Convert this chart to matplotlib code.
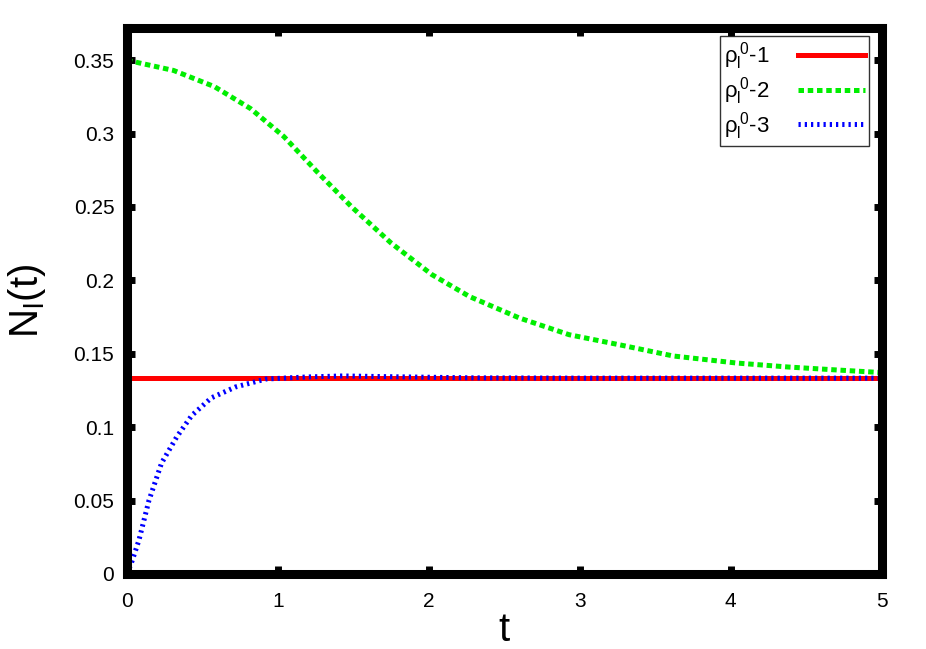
import numpy as np
import matplotlib
matplotlib.use('Agg')
import matplotlib.pyplot as plt

plt.rcParams['font.family'] = ['Liberation Sans', 'DejaVu Sans']
plt.rcParams['mathtext.fontset'] = 'custom'
plt.rcParams['mathtext.rm'] = 'Liberation Sans'
plt.rcParams['mathtext.default'] = 'regular'

# data
t_green = [0.0, 0.31, 0.58, 0.82, 1.04, 1.26, 1.49, 1.75, 2.02, 2.27, 2.60, 2.93,
           3.27, 3.62, 4.04, 4.38, 4.70, 5.0]
n_green = [0.350, 0.343, 0.332, 0.317, 0.298, 0.274, 0.250, 0.2255, 0.204, 0.189,
           0.1744, 0.163, 0.156, 0.1485, 0.1437, 0.141, 0.139, 0.1372]

t_blue = [0.0, 0.03, 0.08, 0.146, 0.23, 0.33, 0.43, 0.56, 0.72, 0.92, 1.19, 1.43,
          1.8, 2.3, 3.0, 4.0, 5.0]
n_blue = [0.0, 0.0075, 0.023, 0.050, 0.0756, 0.0933, 0.108, 0.120, 0.1274, 0.1328,
          0.1342, 0.1349, 0.1343, 0.1336, 0.1334, 0.1334, 0.1334]

t_red = [0.0, 5.0]
n_red = [0.1333, 0.1333]

labels = [r'$\rho_l^{\,0}$-1', r'$\rho_l^{\,0}$-2', r'$\rho_l^{\,0}$-3']

fig = plt.figure(figsize=(9.26, 6.49), dpi=100)
ax = fig.add_axes([0.137, 0.1156, 0.815, 0.8414])

ax.plot(t_red, n_red, color='#ff0000', lw=3.6, label=labels[0])
ax.plot(t_green, n_green, color='#00ee00', lw=3.6, linestyle=(0, (1.1, 0.75)), label=labels[1])
ax.plot(t_blue, n_blue, color='#0000ff', lw=3.6, linestyle=(0, (0.45, 0.8)), label=labels[2])

ax.set_xlim(0, 5)
ax.set_ylim(0, 0.372)
ax.set_xticks([0, 1, 2, 3, 4, 5])
ax.set_yticks([0, 0.05, 0.1, 0.15, 0.2, 0.25, 0.3, 0.35])
ax.set_yticklabels(['0', '0.05', '0.1', '0.15', '0.2', '0.25', '0.3', '0.35'])
ax.tick_params(direction='in', length=6, width=5, labelsize=15, top=True, right=True, pad=9)
ax.tick_params(axis='x', pad=13)
for s in ax.spines.values():
    s.set_linewidth(6.5)

ax.set_xlabel('t', fontsize=29, labelpad=0)
ax.set_ylabel(r'$N_l(t)$', fontsize=29, labelpad=18)

leg = ax.legend(loc='upper right', markerfirst=False, fontsize=16, frameon=True, fancybox=False,
                edgecolor='black', handlelength=3.0, handletextpad=1.3, borderpad=0.2,
                labelspacing=0.12, borderaxespad=0, bbox_to_anchor=(0.984, 0.985))
leg.get_frame().set_linewidth(1.0)

plt.savefig('out.png', dpi=100)
